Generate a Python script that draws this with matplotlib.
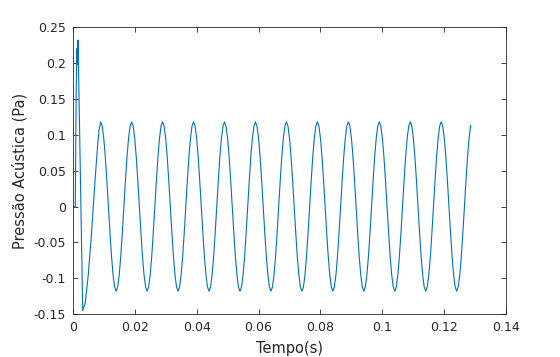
import numpy as np
import matplotlib
matplotlib.use("Agg")
import matplotlib.pyplot as plt
from matplotlib.ticker import FuncFormatter

# transiente inicial
tempo_inicio = [0.0, 0.0008, 0.0011, 0.0013, 0.0015, 0.0017, 0.0032,
                0.0040, 0.0050, 0.0060, 0.0070, 0.0080, 0.0085, 0.0090]
pressao_inicio = [0.0, 0.0, 0.16, 0.22, 0.198, 0.232, -0.145,
                  -0.135, -0.095, -0.04, 0.025, 0.085, 0.107, 0.118]

# regime permanente, amostras a cada 0.5 ms a partir de t = 0.0095 s
t0_regime = 0.0095
dt_regime = 0.0005
pressao_regime = [
    0.112, 0.095, 0.069, 0.036, 0.000, -0.036, -0.069, -0.095, -0.112, -0.118, -0.112, -0.095, -0.069, -0.036, 0.000, 0.036, 0.069, 0.095, 0.112, 0.118,
    0.112, 0.095, 0.069, 0.036, 0.000, -0.036, -0.069, -0.095, -0.112, -0.118, -0.112, -0.095, -0.069, -0.036, 0.000, 0.036, 0.069, 0.095, 0.112, 0.118,
    0.112, 0.095, 0.069, 0.036, 0.000, -0.036, -0.069, -0.095, -0.112, -0.118, -0.112, -0.095, -0.069, -0.036, 0.000, 0.036, 0.069, 0.095, 0.112, 0.118,
    0.112, 0.095, 0.069, 0.036, 0.000, -0.036, -0.069, -0.095, -0.112, -0.118, -0.112, -0.095, -0.069, -0.036, 0.000, 0.036, 0.069, 0.095, 0.112, 0.118,
    0.112, 0.095, 0.069, 0.036, 0.000, -0.036, -0.069, -0.095, -0.112, -0.118, -0.112, -0.095, -0.069, -0.036, 0.000, 0.036, 0.069, 0.095, 0.112, 0.118,
    0.112, 0.095, 0.069, 0.036, 0.000, -0.036, -0.069, -0.095, -0.112, -0.118, -0.112, -0.095, -0.069, -0.036, 0.000, 0.036, 0.069, 0.095, 0.112, 0.118,
    0.112, 0.095, 0.069, 0.036, 0.000, -0.036, -0.069, -0.095, -0.112, -0.118, -0.112, -0.095, -0.069, -0.036, 0.000, 0.036, 0.069, 0.095, 0.112, 0.118,
    0.112, 0.095, 0.069, 0.036, 0.000, -0.036, -0.069, -0.095, -0.112, -0.118, -0.112, -0.095, -0.069, -0.036, 0.000, 0.036, 0.069, 0.095, 0.112, 0.118,
    0.112, 0.095, 0.069, 0.036, 0.000, -0.036, -0.069, -0.095, -0.112, -0.118, -0.112, -0.095, -0.069, -0.036, 0.000, 0.036, 0.069, 0.095, 0.112, 0.118,
    0.112, 0.095, 0.069, 0.036, 0.000, -0.036, -0.069, -0.095, -0.112, -0.118, -0.112, -0.095, -0.069, -0.036, 0.000, 0.036, 0.069, 0.095, 0.112, 0.118,
    0.112, 0.095, 0.069, 0.036, 0.000, -0.036, -0.069, -0.095, -0.112, -0.118, -0.112, -0.095, -0.069, -0.036, 0.000, 0.036, 0.069, 0.095, 0.112, 0.118,
    0.112, 0.095, 0.069, 0.036, 0.000, -0.036, -0.069, -0.095, -0.112, -0.118, -0.112, -0.095, -0.069, -0.036, 0.000, 0.036, 0.069, 0.095, 0.113,
]

xticks = [0, 0.02, 0.04, 0.06, 0.08, 0.1, 0.12, 0.14]
yticks = [-0.15, -0.1, -0.05, 0, 0.05, 0.1, 0.15, 0.2, 0.25]

tempo_regime = t0_regime + dt_regime * np.arange(len(pressao_regime))
tempo = np.concatenate([tempo_inicio, tempo_regime])
pressao = np.concatenate([pressao_inicio, pressao_regime])

cinza = "#262626"
plt.rcParams['font.family'] = ['DejaVu Sans']

fig = plt.figure(figsize=(5.6, 3.57), dpi=100)
ax = fig.add_axes([0.130, 0.120, 0.774, 0.804])
ax.plot(tempo, pressao, color="#0072BD", linewidth=0.8)

ax.set_xlim(0, 0.14)
ax.set_ylim(-0.15, 0.25)
ax.set_xticks(xticks)
ax.set_yticks(yticks)
fmt = FuncFormatter(lambda v, p: "%g" % round(v, 4))
ax.xaxis.set_major_formatter(fmt)
ax.yaxis.set_major_formatter(fmt)
ax.tick_params(direction="in", length=3.5, width=0.6, colors=cinza,
               labelsize=9, top=True, right=True, pad=5)
for s in ax.spines.values():
    s.set_color(cinza)
    s.set_linewidth(0.6)

ax.set_xlabel("Tempo(s)", fontsize=10.5, color=cinza, labelpad=5)
ax.set_ylabel("Pressão Acústica (Pa)", fontsize=10.5, color=cinza, labelpad=4)

fig.savefig("out.png", dpi=100)
